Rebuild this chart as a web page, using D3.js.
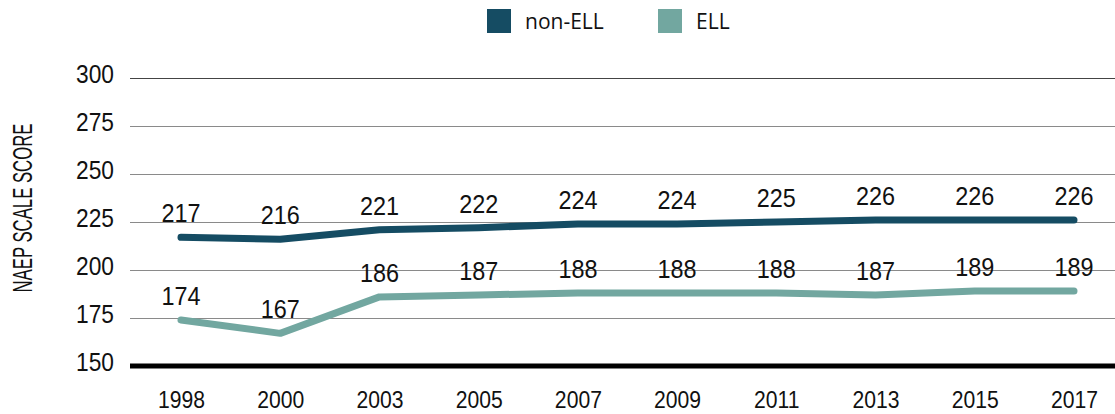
<!DOCTYPE html>
<html>
<head>
<meta charset="utf-8">
<script src="https://cdn.jsdelivr.net/npm/d3@7"></script>
<style>
  body { margin: 0; background: #fff; }
  svg text { fill: #111; }
</style>
</head>
<body>
<div id="chart"></div>
<script>
'use strict';

var years = ['1998', '2000', '2003', '2005', '2007', '2009', '2011', '2013', '2015', '2017'];
var nonEll = [217, 216, 221, 222, 224, 224, 225, 226, 226, 226];
var ell = [174, 167, 186, 187, 188, 188, 188, 187, 189, 189];
var yTicks = [150, 175, 200, 225, 250, 275, 300];
var seriesNames = ['non-ELL', 'ELL'];
var seriesColors = ['#154c63', '#72a7a0'];

var W = 1115, H = 414;
var plot = {left: 130, right: 1115, top: 78, bottom: 366};
// no narrow font installed, so squeeze Liberation Sans horizontally
var font = '"Liberation Sans", Arial, sans-serif';

var svg = d3.select('#chart').append('svg')
    .attr('width', W)
    .attr('height', H);

var x = d3.scalePoint()
    .domain(years)
    .range([181, 1074]);

var y = d3.scaleLinear()
    .domain([150, 300])
    .range([plot.bottom, plot.top]);

// grid lines
svg.append('g')
    .selectAll('line')
    .data(yTicks.filter(function(d){ return d > 150; }))
    .enter()
    .append('line')
    .attr('x1', plot.left)
    .attr('x2', plot.right)
    .attr('y1', function(d){ return Math.round(y(d)) + 0.5; })
    .attr('y2', function(d){ return Math.round(y(d)) + 0.5; })
    .style('stroke', function(d){ return d === 300 ? '#444' : '#8a8a8a'; })
    .style('stroke-width', 1);

// y axis labels
var yAxis = d3.axisLeft(y).tickValues(yTicks).tickSize(0).tickPadding(0);
var yg = svg.append('g')
    .attr('transform', 'translate(114,0)')
    .call(yAxis);
yg.select('.domain').remove();
yg.selectAll('text')
    .style('font-family', font)
    .style('font-size', '25px')
    .style('fill', '#111')
    .attr('x', 0)
    .attr('dy', 4)
    .attr('transform', 'scale(0.91,1)');

// x axis labels
var xAxis = d3.axisBottom(x).tickSize(0).tickPadding(0);
var xg = svg.append('g')
    .attr('transform', 'translate(0,408)')
    .call(xAxis);
xg.select('.domain').remove();
xg.selectAll('text')
    .style('font-family', font)
    .style('font-size', '23px')
    .style('fill', '#111')
    .attr('y', 0)
    .attr('dy', 0)
    .attr('transform', 'scale(0.92,1)');

// baseline
svg.append('line')
    .attr('x1', plot.left)
    .attr('x2', plot.right)
    .attr('y1', y(150))
    .attr('y2', y(150))
    .style('stroke', '#000')
    .style('stroke-width', 5);

// y axis title
svg.append('text')
    .attr('transform', 'translate(32,208) rotate(-90) scale(0.62,1)')
    .attr('text-anchor', 'middle')
    .style('font-family', font)
    .style('font-size', '27px')
    .text('NAEP SCALE SCORE');

var line = d3.line()
    .x(function(d, i){ return x(years[i]); })
    .y(function(d){ return y(d); });

[nonEll, ell].forEach(function(vals, k){
    svg.append('path')
        .datum(vals)
        .attr('d', line)
        .style('fill', 'none')
        .style('stroke', seriesColors[k])
        .style('stroke-width', 7)
        .style('stroke-linecap', 'round')
        .style('stroke-linejoin', 'round');

    svg.append('g')
        .selectAll('text')
        .data(vals)
        .enter()
        .append('text')
        .attr('transform', function(d, i){
            return 'translate(' + x(years[i]) + ',' + (y(d) - 15) + ') scale(0.9,1)';
        })
        .attr('text-anchor', 'middle')
        .style('font-family', font)
        .style('font-size', '26px')
        .text(function(d){ return d; });
});

// legend
var legendX = [487, 658];
seriesNames.forEach(function(name, k){
    svg.append('rect')
        .attr('x', legendX[k])
        .attr('y', 9)
        .attr('width', 24)
        .attr('height', 24)
        .style('fill', seriesColors[k]);
    svg.append('text')
        .attr('x', legendX[k] + 38)
        .attr('y', 29)
        .style('font-family', '"Open Sans", "Noto Sans", sans-serif')
        .style('font-size', '21px')
        .text(name);
});
</script>
</body>
</html>
